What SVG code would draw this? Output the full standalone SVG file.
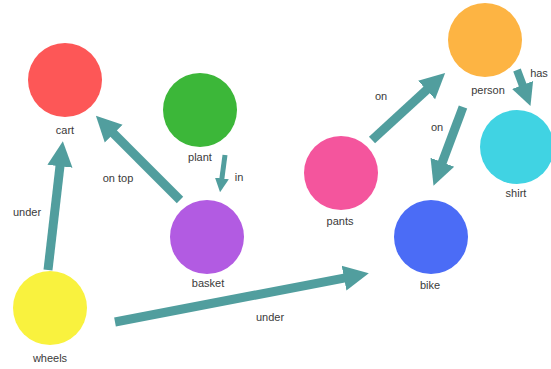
<svg xmlns="http://www.w3.org/2000/svg" width="551" height="369" viewBox="0 0 551 369">
<style>
.lbl{font-family:"Liberation Sans",Arial,sans-serif;font-size:11px;fill:#3a3a3a;text-anchor:middle}
.edge{stroke:#519e9e;fill:none;stroke-linecap:butt}
</style>
<defs>
<marker id="ah" viewBox="0 0 10 10" refX="0.5" refY="5" markerWidth="2.8" markerHeight="3.4" orient="auto" markerUnits="strokeWidth">
<path d="M0,0 L10,5 L0,10 z" fill="#519e9e"/>
</marker>
</defs>
<rect width="551" height="369" fill="#ffffff"/>
<g id="connectors">
<line class="edge" stroke-width="9" x1="48" y1="270" x2="60.1" y2="165" marker-end="url(#ah)"/>
<line class="edge" stroke-width="9" x1="180" y1="200" x2="112.8" y2="132.8" marker-end="url(#ah)"/>
<line class="edge" stroke-width="5" x1="225" y1="155" x2="221.8" y2="179.1" marker-end="url(#ah)"/>
<line class="edge" stroke-width="9" x1="115" y1="322" x2="345.3" y2="277.8" marker-end="url(#ah)"/>
<line class="edge" stroke-width="9" x1="372" y1="140" x2="427.5" y2="89.1" marker-end="url(#ah)"/>
<line class="edge" stroke-width="9" x1="463" y1="107" x2="441.9" y2="163.4" marker-end="url(#ah)"/>
<line class="edge" stroke-width="8" x1="517" y1="70" x2="523" y2="86" marker-end="url(#ah)"/>
<text class="lbl" x="27" y="216">under</text>
<text class="lbl" x="118" y="182">on top</text>
<text class="lbl" x="239" y="181">in</text>
<text class="lbl" x="270" y="321">under</text>
<text class="lbl" x="381" y="100">on</text>
<text class="lbl" x="437" y="131">on</text>
<text class="lbl" x="539" y="77">has</text>
</g>
<g id="cart"><circle cx="65" cy="80" r="37" fill="#fd5757"/><text class="lbl" x="65" y="134">cart</text></g>
<g id="plant"><circle cx="200" cy="110" r="37" fill="#3cb739"/><text class="lbl" x="200" y="161">plant</text></g>
<g id="basket"><circle cx="207" cy="237" r="37" fill="#b25be2"/><text class="lbl" x="208" y="287">basket</text></g>
<g id="wheels"><circle cx="50" cy="308" r="37" fill="#f9f23e"/><text class="lbl" x="50" y="362">wheels</text></g>
<g id="bike"><circle cx="431" cy="237" r="37" fill="#4b6cf6"/><text class="lbl" x="430" y="289">bike</text></g>
<g id="pants"><circle cx="341" cy="173" r="37" fill="#f4559d"/><text class="lbl" x="340" y="225">pants</text></g>
<g id="person"><circle cx="485" cy="40" r="37" fill="#fdb443"/><text class="lbl" x="488" y="94">person</text></g>
<g id="shirt"><circle cx="517" cy="147" r="37" fill="#40d3e3"/><text class="lbl" x="516" y="197">shirt</text></g>
</svg>
